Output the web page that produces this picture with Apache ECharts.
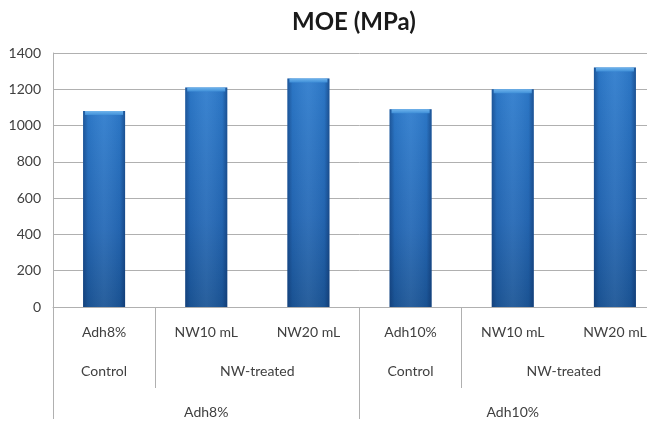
<!DOCTYPE html>
<html>
<head>
<meta charset="utf-8">
<script src="https://cdn.jsdelivr.net/npm/echarts@6/dist/echarts.min.js"></script>
<style>
  html, body { margin: 0; padding: 0; background: #ffffff; overflow: hidden; }
  #chart { width: 672px; height: 423px; }
</style>
</head>
<body>
<div id="chart"></div>
<script>
// Modulus of elasticity per formulation
const categories = ['Adh8%', 'NW10 mL', 'NW20 mL', 'Adh10%', 'NW10 mL', 'NW20 mL'];
const moeValues = [1080, 1210, 1260, 1090, 1200, 1320];

// Second-level grouping (treatment) and how many categories each spans
const treatmentLabels = ['Control', 'NW-treated', 'Control', 'NW-treated'];
const treatmentSpans = [1, 2, 1, 2];

// Third-level grouping (adhesive content)
const adhesiveLabels = ['Adh8%', 'Adh10%'];
const adhesiveSpans = [3, 3];

const yMin = 0, yMax = 1400, yStep = 200;

const FONT = 'Lato, "Open Sans", sans-serif';
const TEXT = '#404040';
const LINE = '#b0b0b0';

// Turn spans into group centres / boundaries on a 0..N value scale
function layoutGroups(labels, spans) {
  const centers = [], bounds = [0], names = {};
  let pos = 0;
  spans.forEach((s, i) => {
    const c = pos + s / 2;
    centers.push(c);
    names[c] = labels[i];
    pos += s;
    bounds.push(pos);
  });
  return { centers, bounds, names };
}
const lvl2 = layoutGroups(treatmentLabels, treatmentSpans);
const lvl3 = layoutGroups(adhesiveLabels, adhesiveSpans);

function groupAxis(group, margin, tickLen) {
  return {
    type: 'value',
    position: 'bottom',
    min: 0,
    max: categories.length,
    axisLine: { show: false },
    splitLine: { show: false },
    axisTick: {
      show: true,
      customValues: group.bounds,
      length: tickLen,
      lineStyle: { color: LINE, width: 1 }
    },
    axisLabel: {
      customValues: group.centers,
      formatter: v => group.names[v] || '',
      margin: margin,
      fontFamily: FONT,
      fontSize: 14,
      color: TEXT
    }
  };
}

const chart = echarts.init(document.getElementById('chart'), null, { renderer: 'canvas' });

chart.setOption({
  animation: false,
  backgroundColor: '#ffffff',
  title: {
    text: 'MOE (MPa)',
    left: 287,
    top: 5,
    textStyle: { fontFamily: FONT, fontWeight: 'bold', fontSize: 24, color: '#1a1a1a' }
  },
  grid: { left: 53, right: 6, top: 53, bottom: 116, containLabel: false },
  xAxis: [
    {
      type: 'category',
      data: categories,
      position: 'bottom',
      axisLine: { show: true, lineStyle: { color: LINE } },
      axisTick: { show: false },
      axisLabel: { margin: 18, fontFamily: FONT, fontSize: 14, color: TEXT, interval: 0 }
    },
    groupAxis(lvl2, 57, 81),
    groupAxis(lvl3, 98, 112)
  ],
  yAxis: {
    type: 'value',
    min: yMin,
    max: yMax,
    interval: yStep,
    axisLine: { show: true, lineStyle: { color: LINE } },
    axisTick: { show: false },
    splitLine: { lineStyle: { color: LINE, width: 1 } },
    axisLabel: {
      margin: 12, fontFamily: FONT, fontSize: 14, color: TEXT,
      formatter: v => String(v)
    }
  },
  series: [
    {
      // body of each column, darker towards the base
      type: 'bar',
      xAxisIndex: 0,
      data: moeValues,
      barWidth: 42,
      itemStyle: {
        color: new echarts.graphic.LinearGradient(0, 0, 0, 1, [
          { offset: 0, color: '#2e7ccd' },
          { offset: 0.6, color: '#2569b6' },
          { offset: 1, color: '#1b5596' }
        ])
      }
    },
    {
      // shading across the column width
      type: 'bar',
      xAxisIndex: 0,
      data: moeValues,
      barWidth: 42,
      barGap: '-100%',
      silent: true,
      itemStyle: {
        color: new echarts.graphic.LinearGradient(0, 0, 1, 0, [
          { offset: 0, color: 'rgba(10,40,90,0.45)' },
          { offset: 0.12, color: 'rgba(10,40,90,0.08)' },
          { offset: 0.5, color: 'rgba(255,255,255,0.06)' },
          { offset: 0.88, color: 'rgba(10,40,90,0.08)' },
          { offset: 1, color: 'rgba(10,40,90,0.5)' }
        ])
      }
    },
    {
      // bevelled cap on top of each column
      type: 'pictorialBar',
      xAxisIndex: 0,
      data: moeValues,
      symbol: 'rect',
      symbolSize: [38, 4],
      symbolPosition: 'end',
      symbolOffset: [0, 0],
      z: 5,
      silent: true,
      itemStyle: {
        color: new echarts.graphic.LinearGradient(0, 0, 0, 1, [
          { offset: 0, color: '#6fb4ec' },
          { offset: 1, color: '#3f8fd8' }
        ])
      }
    }
  ]
});
</script>
</body>
</html>
